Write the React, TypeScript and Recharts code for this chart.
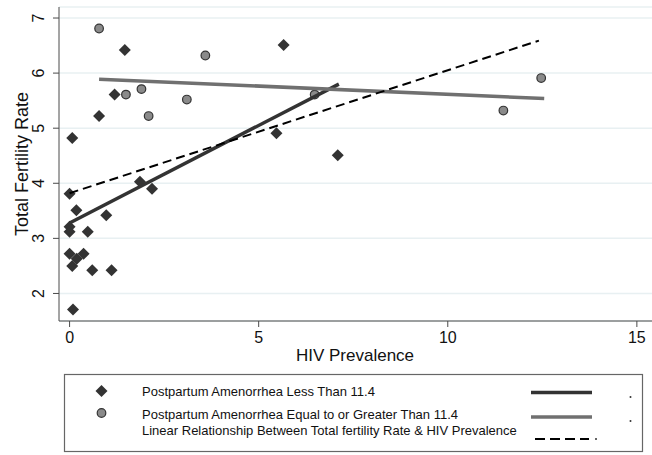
import React from 'react';
import { ScatterChart, Scatter, XAxis, YAxis, CartesianGrid } from 'recharts';

// HIV prevalence (x) vs total fertility rate (y)
const lowPA = [
  { x: 1.46, y: 6.42 }, { x: 5.66, y: 6.51 }, { x: 1.19, y: 5.61 }, { x: 0.78, y: 5.22 },
  { x: 0.07, y: 4.82 }, { x: 5.47, y: 4.91 }, { x: 0.0, y: 3.81 }, { x: 1.86, y: 4.03 },
  { x: 2.18, y: 3.9 }, { x: 0.18, y: 3.51 }, { x: 0.97, y: 3.42 }, { x: 0.0, y: 3.21 },
  { x: 0.0, y: 3.12 }, { x: 0.48, y: 3.12 }, { x: 0.0, y: 2.72 }, { x: 0.37, y: 2.72 },
  { x: 0.19, y: 2.63 }, { x: 0.07, y: 2.5 }, { x: 0.6, y: 2.42 }, { x: 1.11, y: 2.42 },
  { x: 0.09, y: 1.71 }, { x: 7.09, y: 4.51 },
];
const highPA = [
  { x: 0.78, y: 6.81 }, { x: 3.59, y: 6.32 }, { x: 1.49, y: 5.61 }, { x: 1.9, y: 5.71 },
  { x: 3.1, y: 5.52 }, { x: 2.09, y: 5.22 }, { x: 6.48, y: 5.61 }, { x: 11.47, y: 5.32 },
  { x: 12.47, y: 5.91 },
];
const fitLow = [{ x: 0, y: 3.28 }, { x: 7.12, y: 5.8 }];
const fitHigh = [{ x: 0.78, y: 5.89 }, { x: 12.55, y: 5.54 }];
const fitAll = [{ x: 0, y: 3.82 }, { x: 12.41, y: 6.59 }];

const xTicks = [0, 5, 10, 15];
const yTicks = [2, 3, 4, 5, 6, 7];
const legendLabels = [
  'Postpartum Amenorrhea Less Than 11.4',
  'Postpartum Amenorrhea Equal to or Greater Than 11.4',
  'Linear Relationship Between Total fertility Rate & HIV Prevalence',
];

const FONT = '"Liberation Sans", Arial, Helvetica, sans-serif';
const AXIS = '#4a4a4a';
const DARK = '#333333';
const GRAY = '#707070';
const CIRCLE = '#8a8a8a';

const Diamond = ({ cx, cy }: any) => (
  <polygon points={`${cx},${cy - 6} ${cx + 6},${cy} ${cx},${cy + 6} ${cx - 6},${cy}`} fill={DARK} />
);
const Dot = ({ cx, cy }: any) => <circle cx={cx} cy={cy} r={4.3} fill={CIRCLE} stroke={DARK} strokeWidth={1.2} />;
const NoShape = () => <g />;

const XTick = ({ x, payload }: any) => (
  <text x={x} y={343} textAnchor="middle" fontSize={16} fill="#111" fontFamily={FONT}>
    {payload.value}
  </text>
);
const YTick = ({ y, payload }: any) => (
  <text x={44} y={y} transform={`rotate(-90 44 ${y})`} textAnchor="middle" fontSize={16} fill="#111" fontFamily={FONT}>
    {payload.value}
  </text>
);

function Legend() {
  return (
    <svg width={652} height={455} style={{ position: 'absolute', left: 0, top: 0, pointerEvents: 'none' }}>
      <rect x={64.5} y={374.5} width={578} height={77} fill="#fff" stroke="#666" strokeWidth={1.2} />
      <Diamond cx={101.5} cy={391} />
      <Dot cx={101.5} cy={413} />
      <g fontFamily={FONT} fontSize={13} fill="#111">
        <text x={142} y={396}>{legendLabels[0]}</text>
        <text x={142} y={418.5}>{legendLabels[1]}</text>
        <text x={142} y={434.5}>{legendLabels[2]}</text>
      </g>
      <line x1={531} x2={592} y1={392.5} y2={392.5} stroke={DARK} strokeWidth={3.5} />
      <line x1={531} x2={592} y1={417} y2={417} stroke={GRAY} strokeWidth={3.5} />
      <line x1={535} x2={589} y1={439} y2={439} stroke="#000" strokeWidth={2} strokeDasharray="10 5" />
      <circle cx={630.5} cy={397} r={1} fill="#333" />
      <circle cx={630.5} cy={421} r={1} fill="#333" />
      <circle cx={596} cy={439} r={1} fill="#333" />
    </svg>
  );
}

export default function App() {
  return (
    <div style={{ position: 'absolute', left: 0, top: 0, width: 652, height: 455, background: '#fff', fontFamily: FONT }}>
      <ScatterChart width={652} height={455} margin={{ top: 7, right: 0, left: 0, bottom: 94 }}>
        <CartesianGrid horizontal vertical={false} stroke="#e8f0f2" strokeWidth={1.5} />
        <XAxis
          type="number"
          dataKey="x"
          domain={[-0.28, 15.4]}
          ticks={xTicks}
          allowDataOverflow
          height={40}
          stroke={AXIS}
          tickSize={6}
          tick={<XTick />}
          label={{
            content: () => (
              <text x={355} y={361} textAnchor="middle" fontSize={17} fill="#111" fontFamily={FONT}>
                HIV Prevalence
              </text>
            ),
          }}
        />
        <YAxis
          type="number"
          dataKey="y"
          domain={[1.5, 7.2]}
          ticks={yTicks}
          allowDataOverflow
          width={59}
          stroke={AXIS}
          tickSize={6}
          tick={<YTick />}
          label={{
            content: ({ viewBox }: any) => {
              const cy = viewBox.y + viewBox.height / 2;
              return (
                <text x={28} y={cy} transform={`rotate(-90 28 ${cy})`} textAnchor="middle" fontSize={18} fill="#111" fontFamily={FONT}>
                  Total Fertility Rate
                </text>
              );
            },
          }}
        />
        <Scatter data={lowPA} shape={<Diamond />} isAnimationActive={false} />
        <Scatter data={highPA} shape={<Dot />} isAnimationActive={false} />
        <Scatter data={fitLow} shape={<NoShape />} line={{ stroke: DARK, strokeWidth: 3.5 }} isAnimationActive={false} />
        <Scatter data={fitHigh} shape={<NoShape />} line={{ stroke: GRAY, strokeWidth: 3.5 }} isAnimationActive={false} />
        <Scatter
          data={fitAll}
          shape={<NoShape />}
          line={{ stroke: '#000', strokeWidth: 2, strokeDasharray: '9 5' }}
          isAnimationActive={false}
        />
      </ScatterChart>
      <Legend />
    </div>
  );
}
